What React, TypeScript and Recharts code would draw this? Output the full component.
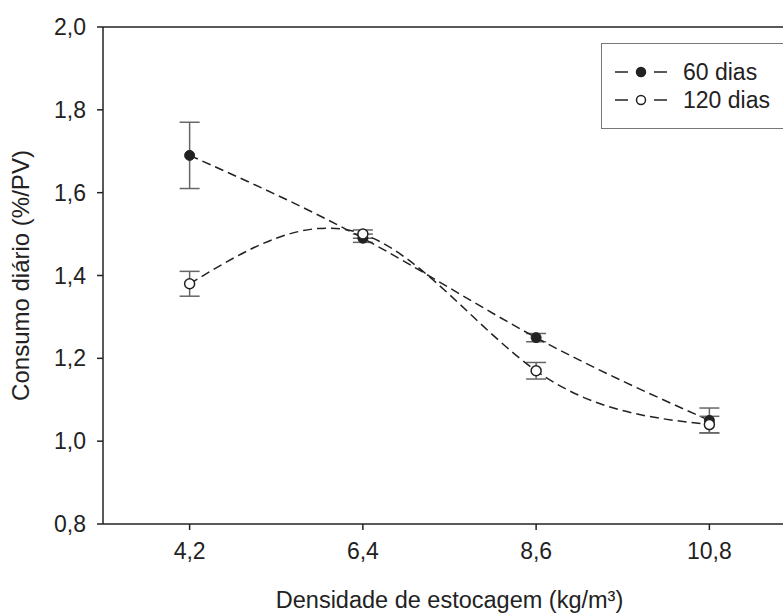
import React from 'react';
import {
  ComposedChart, Line, XAxis, YAxis, ErrorBar, ReferenceLine, Label,
} from 'recharts';

const densidade = [4.2, 6.4, 8.6, 10.8];
const dias60 = [1.69, 1.49, 1.25, 1.05];
const erro60 = [0.08, 0.01, 0.01, 0.03];
const dias120 = [1.38, 1.5, 1.17, 1.04];
const erro120 = [0.03, 0.01, 0.02, 0.02];
const yTicks = [0.8, 1.0, 1.2, 1.4, 1.6, 1.8, 2.0];
const series = [
  { name: '60 dias', fill: '#222' },
  { name: '120 dias', fill: '#fff' },
];

const data = densidade.map((d, i) => ({
  x: d,
  d60: dias60[i],
  e60: erro60[i],
  d120: dias120[i],
  e120: erro120[i],
}));

const FONT = '"Liberation Sans", Arial, sans-serif';
const INK = '#222';
const comma = (v: number) => v.toFixed(1).replace('.', ',');

// legend drawn on top of the chart so it doesn't eat into the plot area
const LegendBox = () => (
  <div
    style={{
      position: 'absolute',
      left: 601,
      top: 43,
      width: 200,
      height: 86,
      border: '1.5px solid #777',
      background: '#fff',
      fontFamily: FONT,
      fontSize: 23,
      color: INK,
      boxSizing: 'border-box',
    }}
  >
    {series.map((it, i) => (
      <div key={it.name} style={{ position: 'absolute', left: 12, top: 14 + i * 28, display: 'flex', alignItems: 'center', height: 28 }}>
        <svg width={54} height={14}>
          <line x1={1} y1={7} x2={14} y2={7} stroke={INK} strokeWidth={1.5} />
          <circle cx={27} cy={7} r={4.5} fill={it.fill} stroke={INK} strokeWidth={1.5} />
          <line x1={40} y1={7} x2={53} y2={7} stroke={INK} strokeWidth={1.5} />
        </svg>
        <span style={{ marginLeft: 15 }}>{it.name}</span>
      </div>
    ))}
  </div>
);

export default function App() {
  return (
    <div style={{ position: 'absolute', left: 0, top: 0, width: 783, height: 616, overflow: 'hidden', background: '#fff' }}>
      <ComposedChart
        width={800}
        height={616}
        data={data}
        margin={{ top: 27, right: 4, bottom: 0, left: 0 }}
      >
        <XAxis
          dataKey="x"
          type="number"
          domain={[3.1, 11.9]}
          ticks={densidade}
          tickFormatter={comma}
          height={92}
          tickSize={6}
          tickMargin={13}
          stroke={INK}
          strokeWidth={1.5}
          tick={{ fill: INK, fontSize: 23, fontFamily: FONT }}
        >
          <Label
            position="insideBottom"
            offset={8}
            style={{ fill: INK, fontSize: 23.5, fontFamily: FONT }}
            value="Densidade de estocagem (kg/m³)"
          />
        </XAxis>
        <YAxis
          type="number"
          domain={[0.8, 2.0]}
          ticks={yTicks}
          tickFormatter={comma}
          width={103}
          tickSize={6}
          tickMargin={11}
          stroke={INK}
          strokeWidth={1.5}
          tick={{ fill: INK, fontSize: 23, fontFamily: FONT }}
        >
          <Label
            angle={-90}
            position="insideLeft"
            offset={20}
            style={{ fill: INK, fontSize: 24, fontFamily: FONT, textAnchor: 'middle' }}
            value="Consumo diário (%/PV)"
          />
        </YAxis>
        <ReferenceLine y={2.0} stroke={INK} strokeWidth={1.5} />
        <Line
          dataKey="d60"
          name="60 dias"
          type="natural"
          stroke={INK}
          strokeWidth={1.5}
          strokeDasharray="9 5"
          dot={{ r: 5, fill: INK, stroke: INK, strokeWidth: 1, strokeDasharray: '' }}
          isAnimationActive={false}
        >
          <ErrorBar dataKey="e60" direction="y" width={10} stroke="#666" strokeWidth={1.5} />
        </Line>
        <Line
          dataKey="d120"
          name="120 dias"
          type="natural"
          stroke={INK}
          strokeWidth={1.5}
          strokeDasharray="9 5"
          dot={{ r: 5, fill: '#fff', stroke: INK, strokeWidth: 1.5, strokeDasharray: '' }}
          isAnimationActive={false}
        >
          <ErrorBar dataKey="e120" direction="y" width={10} stroke="#666" strokeWidth={1.5} />
        </Line>
      </ComposedChart>
      <LegendBox />
    </div>
  );
}
